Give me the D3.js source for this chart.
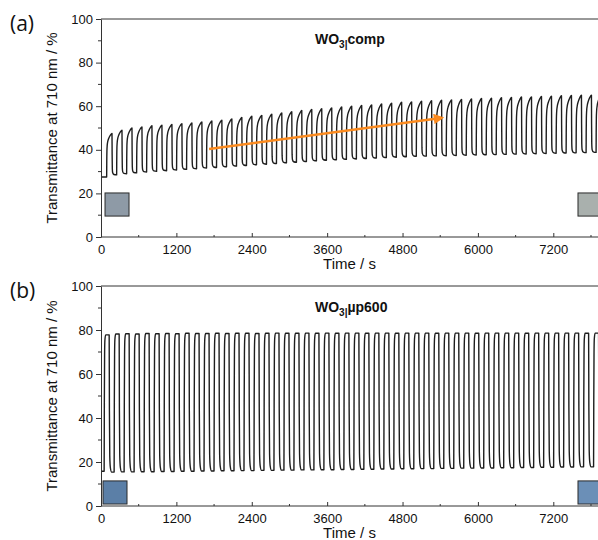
<!DOCTYPE html>
<html><head><meta charset="utf-8">
<script src="https://cdn.jsdelivr.net/npm/d3@7"></script>
<style>body{margin:0;background:#fff}svg{display:block}</style>
</head><body>
<svg id="chart" width="598" height="540"></svg>
<script>
// ---------- data ----------
const xTicks = [0, 1200, 2400, 3600, 4800, 6000, 7200];
const yTicks = [0, 20, 40, 60, 80, 100];

// panel (a): WO3|comp
const cycleA = {period: 159, firstRise: 90, highDur: 85};
const peaksA = [47.5,49.0,50.0,50.5,51.0,51.3,51.6,52.0,52.3,52.8,53.2,53.6,54.2,54.8,55.4,55.8,56.3,56.9,57.5,58.0,
  58.5,58.8,59.2,59.6,60.0,60.3,60.6,61.0,61.4,61.8,62.0,62.3,62.5,62.7,62.9,63.1,63.3,63.5,63.7,63.9,
  64.0,64.2,64.3,64.5,64.6,64.8,64.9,65.0,65.1,65.2];
const lowsA = [27.5,28.5,29.0,29.4,29.8,30.1,30.4,30.7,31.0,31.3,31.6,31.9,32.2,32.5,32.8,33.1,33.4,33.7,34.0,34.3,
  34.6,34.9,35.2,35.4,35.6,35.8,36.0,36.2,36.4,36.6,36.8,37.0,37.1,37.2,37.3,37.4,37.5,37.6,37.7,37.8,
  37.9,38.0,38.1,38.2,38.3,38.4,38.5,38.6,38.7,38.8,38.9];
const riseShapeA = [[0,0],[0.02,0.35],[0.05,0.6],[0.1,0.72],[0.2,0.81],[0.4,0.89],[0.7,0.96],[1,1]];
const fallShapeA = [[0,1],[0.03,0.5],[0.07,0.15],[0.15,0.05],[0.4,0.01],[1,0]];
const arrowA = [[1720, 40.4], [5414, 54.6]];
const boxesA = [[64, 446, 9.6, 20.2], [7593, 8200, 9.6, 20.2]];

// panel (b): WO3|µp600
const cycleB = {period: 159, firstRise: 50, highDur: 80};
const peaksB = [77.8,78.2,78.3,78.2,78.4,78.3,78.4,78.3,78.5,78.4,78.4,78.5,78.4,78.5,78.5,78.4,78.5,78.6,78.5,78.5,
  78.6,78.5,78.6,78.5,78.6,78.6,78.5,78.6,78.6,78.5,78.6,78.6,78.6,78.5,78.6,78.6,78.6,78.5,78.6,78.6,
  78.6,78.6,78.5,78.6,78.6,78.6,78.6,78.6,78.5,78.6];
const lowsB = [15.8,15.4,15.5,15.5,15.6,15.6,15.7,15.7,15.8,15.8,15.9,15.9,16.0,16.0,16.1,16.1,16.2,16.2,16.3,16.3,
  16.4,16.4,16.5,16.5,16.6,16.6,16.7,16.7,16.8,16.8,16.9,16.9,17.0,17.0,17.1,17.1,17.2,17.2,17.3,17.3,
  17.4,17.4,17.5,17.5,17.6,17.6,17.7,17.7,17.8,17.8,17.9];
const riseShapeB = [[0,0],[0.04,0.5],[0.09,0.85],[0.15,0.96],[0.3,1],[1,1]];
const fallShapeB = [[0,1],[0.05,0.45],[0.12,0.12],[0.25,0.03],[0.5,0],[1,0]];
const boxesB = [[32, 414, 0.9, 11.4], [7593, 8200, 0.9, 11.4]];

// ---------- build series ----------
function buildSeries(cyc, peaks, lows, rise, fall) {
  const pts = [[0, lows[0]]];
  peaks.forEach((p, k) => {
    const tr = cyc.firstRise + k * cyc.period;
    pts.push([tr, lows[k]]);
    rise.forEach(([f, v]) => { if (f > 0) pts.push([tr + f * cyc.highDur, lows[k] + (p - lows[k]) * v]); });
    const tf = tr + cyc.highDur, ld = cyc.period - cyc.highDur;
    fall.forEach(([f, v]) => {
      if (f > 0 && (f < 1 || k === peaks.length - 1)) pts.push([tf + f * ld, lows[k + 1] + (p - lows[k + 1]) * v]);
    });
  });
  return pts;
}

// ---------- layout ----------
const svg = d3.select("#chart");
const W = 598;
const left = 101;
const x = d3.scaleLinear().domain([0, 8000]).range([left, left + 8000 * 0.06282]);

const panels = [
  {top: 19, bottom: 237, label: "(a)", labelY: 31, title: "comp", titleY: 44,
   series: buildSeries(cycleA, peaksA, lowsA, riseShapeA, fallShapeA),
   boxes: boxesA, boxFills: ["#8e9aa6", "#a9b0ad"], arrow: arrowA},
  {top: 286, bottom: 506, label: "(b)", labelY: 298, title: "µp600", titleY: 312,
   series: buildSeries(cycleB, peaksB, lowsB, riseShapeB, fallShapeB),
   boxes: boxesB, boxFills: ["#5b7fa7", "#6b8fb7"], arrow: null}
];

const defs = svg.append("defs");
defs.append("marker").attr("id", "ah").attr("viewBox", "0 0 10 10")
  .attr("refX", 7).attr("refY", 5).attr("markerWidth", 4.6).attr("markerHeight", 4.2)
  .attr("orient", "auto").attr("markerUnits", "strokeWidth")
  .append("path").attr("d", "M0,0 L10,5 L0,10 Z").attr("fill", "#fb8a1e");

const font = "'Liberation Sans', Arial, sans-serif";

panels.forEach((P, i) => {
  const y = d3.scaleLinear().domain([0, 100]).range([P.bottom, P.top]);
  const g = svg.append("g");
  const cid = "clip" + i;
  defs.append("clipPath").attr("id", cid).append("rect")
    .attr("x", left).attr("y", P.top).attr("width", W - left).attr("height", P.bottom - P.top);

  // boxes
  g.append("g").attr("clip-path", `url(#${cid})`).selectAll("rect").data(P.boxes).join("rect")
    .attr("x", d => x(d[0])).attr("width", d => x(d[1]) - x(d[0]))
    .attr("y", d => y(d[3])).attr("height", d => y(d[2]) - y(d[3]))
    .attr("fill", (d, j) => P.boxFills[j]).attr("stroke", "#2a2a2a").attr("stroke-width", 1);

  // data line
  g.append("path").datum(P.series).attr("clip-path", `url(#${cid})`)
    .attr("fill", "none").attr("stroke", "#1e1e1e").attr("stroke-width", 1.4)
    .attr("stroke-linejoin", "round")
    .attr("d", d3.line().x(d => x(d[0])).y(d => y(d[1])).curve(d3.curveMonotoneX));

  // arrow
  if (P.arrow) {
    g.append("line")
      .attr("x1", x(P.arrow[0][0])).attr("y1", y(P.arrow[0][1]))
      .attr("x2", x(P.arrow[1][0])).attr("y2", y(P.arrow[1][1]))
      .attr("stroke", "#fb8a1e").attr("stroke-width", 2.5).attr("marker-end", "url(#ah)");
  }

  // top frame
  g.append("line").attr("x1", left).attr("x2", W).attr("y1", P.top).attr("y2", P.top)
    .attr("stroke", "#333").attr("stroke-width", 1);

  // y axis
  const ya = g.append("g").attr("transform", `translate(${left},0)`)
    .call(d3.axisLeft(y).tickValues(yTicks).tickSize(5).tickSizeOuter(0).tickPadding(3).tickFormat(d3.format("d")));
  ya.selectAll("text").attr("font-family", font).attr("font-size", 13).attr("fill", "#111");
  ya.selectAll("line, path").attr("stroke", "#333");
  g.append("g").selectAll("line").data([10, 30, 50, 70, 90]).join("line")
    .attr("x1", left - 3).attr("x2", left).attr("y1", d => y(d)).attr("y2", d => y(d)).attr("stroke", "#333");

  // x axis (ticks inward)
  const xa = g.append("g").attr("transform", `translate(0,${P.bottom})`)
    .call(d3.axisBottom(x).tickValues(xTicks).tickSize(-4).tickSizeOuter(0).tickPadding(8).tickFormat(d3.format("d")));
  xa.select("path").attr("d", `M${left},0H${W}`);
  xa.selectAll("text").attr("font-family", font).attr("font-size", 13).attr("fill", "#111");
  xa.selectAll("line, path").attr("stroke", "#333");
  g.append("g").selectAll("line").data([600, 1800, 3000, 4200, 5400, 6600, 7800]).join("line")
    .attr("x1", d => x(d)).attr("x2", d => x(d)).attr("y1", P.bottom - 2).attr("y2", P.bottom).attr("stroke", "#333");

  // axis titles
  g.append("text").attr("x", (left + W) / 2).attr("y", P.bottom + 32).attr("text-anchor", "middle")
    .attr("font-family", font).attr("font-size", 15).attr("fill", "#111").text("Time / s");
  g.append("text").attr("transform", `translate(57,${(P.top + P.bottom) / 2}) rotate(-90)`)
    .attr("text-anchor", "middle").attr("font-family", font).attr("font-size", 15).attr("fill", "#111")
    .text("Transmittance at 710 nm / %");

  // panel label
  g.append("text").attr("x", 10).attr("y", P.labelY).attr("font-family", "'Open Sans', 'Noto Sans', sans-serif")
    .attr("font-size", 21).attr("fill", "#111").text(P.label);

  // title
  const t = g.append("text").attr("x", 315).attr("y", P.titleY).attr("font-family", font)
    .attr("font-size", 14).attr("font-weight", "bold").attr("fill", "#111");
  t.append("tspan").text("WO");
  t.append("tspan").attr("font-size", 10).attr("dy", 4).text("3|");
  t.append("tspan").attr("dy", -4).text(P.title);
});
</script>
</body></html>
